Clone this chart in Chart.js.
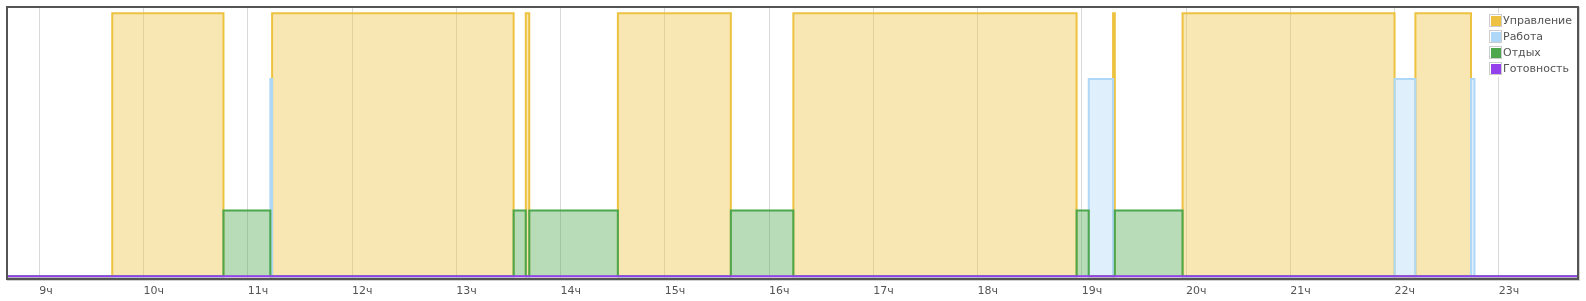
<!DOCTYPE html>
<html lang="ru">
<head>
<meta charset="utf-8">
<title>График</title>
<script src="https://cdn.jsdelivr.net/npm/chart.js@4"></script>
<style>
  html, body { margin: 0; padding: 0; background: #fff; }
  #grafico { display: block; }
</style>
</head>
<body>
<canvas id="grafico" width="1586" height="301"></canvas>
<script>
// ============================
// Dados
// ============================
const axisStart = "08:42";
const axisEnd = "23:45";

const tickHours = [9, 10, 11, 12, 13, 14, 15, 16, 17, 18, 19, 20, 21, 22, 23];
const tickLabels = ["9ч", "10ч", "11ч", "12ч", "13ч", "14ч", "15ч", "16ч", "17ч", "18ч", "19ч", "20ч", "21ч", "22ч", "23ч"];

const seriesNames = ["Управление", "Работа", "Отдых", "Готовность"];
const seriesColors = ["#edc240", "#afd8f8", "#4da74d", "#9440ed"];

const upravlenieTimes = ["08:42", "09:42", "10:46", "11:14", "13:33", "13:40", "13:42", "14:33", "15:38", "16:14", "18:57", "19:18", "19:19", "19:58", "22:00", "22:12", "22:44", "23:45"];
const upravlenieValues = [0, 4, 0, 4, 0, 4, 0, 4, 0, 4, 0, 4, 0, 4, 0, 4, 0, 0];

const rabotaTimes = ["08:42", "11:13", "11:14", "19:04", "19:18", "22:00", "22:12", "22:44", "22:46", "23:45"];
const rabotaValues = [0, 3, 0, 3, 0, 3, 0, 3, 0, 0];

const otdyhTimes = ["08:42", "10:46", "11:13", "13:33", "13:40", "13:42", "14:33", "15:38", "16:14", "18:57", "19:04", "19:19", "19:58", "23:45"];
const otdyhValues = [0, 1, 0, 1, 0, 1, 0, 1, 0, 1, 0, 1, 0, 0];

const gotovnostTimes = ["08:42", "23:45"];
const gotovnostValues = [0, 0];

// ============================
// Helpers
// ============================
function toHours(hhmm) {
  const [h, m] = hhmm.split(":").map(Number);
  return h + m / 60;
}

function toPoints(times, values) {
  return times.map((t, i) => ({ x: toHours(t), y: values[i] }));
}

function alpha(hex, a) {
  const n = parseInt(hex.slice(1), 16);
  return `rgba(${(n >> 16) & 255}, ${(n >> 8) & 255}, ${n & 255}, ${a})`;
}

const allSeries = [
  toPoints(upravlenieTimes, upravlenieValues),
  toPoints(rabotaTimes, rabotaValues),
  toPoints(otdyhTimes, otdyhValues),
  toPoints(gotovnostTimes, gotovnostValues)
];

// ============================
// Plugins: moldura e legenda
// ============================
const molduraPlugin = {
  id: "moldura",
  afterDraw(chart) {
    const { ctx, chartArea: a } = chart;
    ctx.save();
    ctx.strokeStyle = "rgba(0,0,0,0.18)";
    ctx.lineWidth = 1;
    ctx.beginPath();
    ctx.moveTo(a.left - 1, a.bottom + 2.5);
    ctx.lineTo(a.right + 2.5, a.bottom + 2.5);
    ctx.lineTo(a.right + 2.5, a.top - 1);
    ctx.stroke();
    ctx.strokeStyle = "#545454";
    ctx.lineWidth = 2;
    ctx.strokeRect(a.left - 1, a.top - 1, a.right - a.left + 2, a.bottom - a.top + 2);
    ctx.restore();
  }
};

const legendaPlugin = {
  id: "legenda",
  afterDraw(chart) {
    const { ctx, chartArea: a } = chart;
    ctx.save();
    ctx.font = "11px 'DejaVu Sans', sans-serif";
    const larg = Math.max(...seriesNames.map(n => ctx.measureText(n).width));
    const x0 = Math.round(a.right - 5 - larg - 14);
    const y0 = 14;
    const linha = 16;

    ctx.fillStyle = "rgba(255,255,255,0.85)";
    ctx.fillRect(x0 - 1, y0 - 1, larg + 16, linha * seriesNames.length);

    chart.data.datasets.forEach((ds, i) => {
      const y = y0 + i * linha;
      ctx.strokeStyle = "#ccc";
      ctx.lineWidth = 1;
      ctx.strokeRect(x0 + 0.5, y + 0.5, 12, 12);
      ctx.fillStyle = ds.legendColor;
      ctx.fillRect(x0 + 2, y + 2, 10, 10);
      ctx.fillStyle = "#545454";
      ctx.textBaseline = "middle";
      ctx.textAlign = "left";
      ctx.fillText(ds.label, x0 + 14, y + 7);
    });
    ctx.restore();
  }
};

// ============================
// Gráfico
// ============================
const ctx = document.getElementById("grafico").getContext("2d");

const grafico = new Chart(ctx, {
  type: "line",
  data: {
    datasets: allSeries.map((pts, i) => ({
      label: seriesNames[i],
      data: pts,
      borderColor: seriesColors[i],
      backgroundColor: alpha(seriesColors[i], 0.4),
      legendColor: seriesColors[i],
      borderWidth: 2,
      stepped: true,
      fill: i === 3 ? false : "origin",
      pointRadius: 0,
      tension: 0,
      order: 3 - i
    }))
  },
  options: {
    responsive: false,
    animation: false,
    events: [],
    layout: { padding: { left: 8, top: 8, right: 9, bottom: 0 } },
    plugins: {
      legend: { display: false },
      tooltip: { enabled: false }
    },
    scales: {
      x: {
        type: "linear",
        min: toHours(axisStart),
        max: toHours(axisEnd),
        afterBuildTicks: scale => {
          scale.ticks = tickHours.map(v => ({ value: v }));
        },
        afterFit: scale => { scale.height = 23; },
        grid: {
          color: "rgba(84,84,84,0.22)",
          lineWidth: 1,
          drawTicks: false
        },
        border: { display: false },
        ticks: {
          autoSkip: false,
          maxRotation: 0,
          align: "start",
          padding: 7,
          color: "#545454",
          font: { family: "'DejaVu Sans', sans-serif", size: 11 },
          callback: value => {
            const idx = tickHours.indexOf(value);
            return idx >= 0 ? tickLabels[idx] : "";
          }
        }
      },
      y: {
        display: false,
        min: -0.026,
        max: 4.08
      }
    }
  },
  plugins: [molduraPlugin, legendaPlugin]
});
</script>
</body>
</html>
